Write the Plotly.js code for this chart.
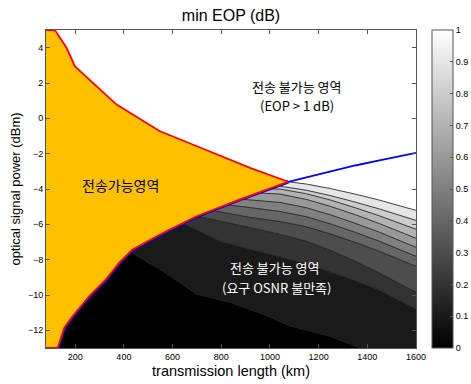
<!DOCTYPE html>
<html>
<head>
<meta charset="utf-8">
<script src="https://cdn.plot.ly/plotly-3.0.1.min.js"></script>
<style>html,body{margin:0;padding:0;background:#fff;} #chart{width:471px;height:384px;}</style>
</head>
<body>
<div id="chart"></div>
<script>
// ---- data ----
const xRange = [80, 1600];
const yRange = [-13, 5];
const xTicks = [200, 400, 600, 800, 1000, 1200, 1400, 1600];
const yTicks = [-12, -10, -8, -6, -4, -2, 0, 2, 4];
const cbTicks = [0, 0.1, 0.2, 0.3, 0.4, 0.5, 0.6, 0.7, 0.8, 0.9, 1];

// upper edge of the feasible (orange) region: EOP = 1 dB limit
const upperX = [80, 117, 165, 199, 370, 548, 713, 918, 1075];
const upperY = [5, 4.98, 3.98, 2.94, 0.78, -0.73, -1.65, -2.80, -3.59];
// lower edge of the feasible region: required OSNR limit
const osnrX = [128, 155, 190, 258, 326, 381, 436, 562, 699, 877, 1075];
const osnrY = [-13, -11.85, -11.19, -10.06, -9.12, -8.17, -7.42, -6.48, -5.54, -4.59, -3.59];
// EOP = 1 dB limit beyond the tip
const eopX = [1075, 1150, 1250, 1350, 1450, 1600];
const eopY = [-3.59, -3.33, -2.98, -2.67, -2.38, -1.95];

// contour levels of min EOP (dB)
const levels = [0.1, 0.2, 0.3, 0.4, 0.5, 0.6, 0.7, 0.8, 0.9, 1.0];
const lvl01X = [425, 561, 699, 836, 972, 1082, 1246, 1370, 1600];
const lvl01Y = [-7.57, -8.65, -9.96, -10.42, -11.09, -11.76, -12.33, -13.0, -13.6];
const lvl02X = [640, 800, 1000, 1150, 1250, 1350, 1450, 1600];
const lvl02Y = [-5.94, -7.00, -7.70, -8.25, -8.72, -9.20, -9.75, -10.81];
const lvl03X = [700, 918, 1041, 1150, 1250, 1350, 1450, 1600];
const lvl03Y = [-5.54, -6.18, -6.57, -6.96, -7.48, -8.09, -8.76, -9.85];
const lvl04X = [760, 918, 1041, 1150, 1250, 1350, 1450, 1600];
const lvl04Y = [-5.21, -5.61, -5.84, -6.14, -6.55, -7.02, -7.53, -8.38];
const lvl05X = [820, 918, 1041, 1150, 1250, 1350, 1450, 1600];
const lvl05Y = [-4.89, -5.05, -5.27, -5.57, -5.98, -6.45, -6.96, -7.81];
const lvl06X = [880, 918, 1041, 1150, 1250, 1350, 1450, 1600];
const lvl06Y = [-4.57, -4.62, -4.76, -5.06, -5.47, -5.94, -6.45, -7.30];
const lvl07X = [950, 1041, 1150, 1250, 1350, 1450, 1600];
const lvl07Y = [-4.22, -4.29, -4.59, -4.99, -5.45, -5.96, -6.79];
const lvl08X = [1000, 1041, 1150, 1250, 1350, 1450, 1600];
const lvl08Y = [-3.97, -4.00, -4.27, -4.63, -5.06, -5.52, -6.28];
const lvl09X = [1030, 1041, 1150, 1250, 1350, 1450, 1600];
const lvl09Y = [-3.82, -3.84, -4.07, -4.38, -4.74, -5.13, -5.78];
const lvl10X = [1075, 1150, 1250, 1350, 1450, 1600];
const lvl10Y = [-3.59, -3.72, -3.98, -4.29, -4.63, -5.21];

const levelX = [lvl01X, lvl02X, lvl03X, lvl04X, lvl05X, lvl06X, lvl07X, lvl08X, lvl09X, lvl10X];
const levelY = [lvl01Y, lvl02Y, lvl03Y, lvl04Y, lvl05Y, lvl06Y, lvl07Y, lvl08Y, lvl09Y, lvl10Y];

// ---- build traces ----
function gray(v) { const g = Math.round(v * 255); return `rgb(${g},${g},${g})`; }

const traces = [];
// floor below the visible range
traces.push({
  x: [xRange[0], xRange[1]], y: [yRange[0] - 1, yRange[0] - 1],
  mode: 'lines', line: {width: 0}, hoverinfo: 'skip', showlegend: false
});
levels.forEach((lv, i) => {
  // level curve continues leftwards hidden beneath the feasible region
  const xs = [xRange[0]].concat(levelX[i]);
  const ys = [levelY[i][0]].concat(levelY[i]);
  const lower = i === 0 ? 0 : levels[i - 1];
  traces.push({
    x: xs, y: ys, mode: 'lines',
    line: {color: 'rgb(15,15,15)', width: 0.8},
    fill: 'tonexty', fillcolor: gray(lower),
    hoverinfo: 'skip', showlegend: false
  });
});
// OSNR limit line (blue) under the feasible region
traces.push({
  x: osnrX, y: osnrY, mode: 'lines',
  line: {color: '#0000ff', width: 3.6}, showlegend: false, hoverinfo: 'skip'
});
// feasible region
const polyX = upperX.concat(osnrX.slice().reverse(), [xRange[0]]);
const polyY = upperY.concat(osnrY.slice().reverse(), [yRange[0]]);
traces.push({
  x: polyX, y: polyY, mode: 'lines', fill: 'toself',
  fillcolor: '#ffc000', line: {color: '#ff0000', width: 1.8},
  showlegend: false, hoverinfo: 'skip'
});
// EOP = 1 dB limit beyond the tip
traces.push({
  x: eopX, y: eopY, mode: 'lines',
  line: {color: '#0000ff', width: 1.8}, showlegend: false, hoverinfo: 'skip'
});
// colour bar carrier
traces.push({
  x: [null, null], y: [null, null], mode: 'markers', showlegend: false, hoverinfo: 'skip',
  marker: {
    color: [0, 1], cmin: 0, cmax: 1,
    colorscale: [[0, 'rgb(0,0,0)'], [1, 'rgb(255,255,255)']],
    showscale: true,
    colorbar: {
      thickness: 21, thicknessmode: 'pixels', len: 1, lenmode: 'fraction',
      x: 1.044, xanchor: 'left', y: 0.5, yanchor: 'middle', xref: 'paper', yref: 'paper',
      xpad: 0, ypad: 0, outlinewidth: 1, outlinecolor: '#555',
      tickvals: cbTicks, ticks: 'inside', ticklen: 3, tickcolor: '#555',
      tickfont: {size: 9, color: '#000'}
    }
  }
});

const fontFam = '"Liberation Sans", Arial, sans-serif';
const krFam = '"Noto Sans CJK KR", sans-serif';
function note(text, x, y, color, size) {
  return {text: text, x: x, y: y, xref: 'x', yref: 'y', showarrow: false, borderpad: 0,
          xanchor: 'center', yanchor: 'middle', font: {family: krFam, size: size, color: color}};
}

const layout = {
  width: 471, height: 384,
  margin: {l: 46, r: 55, t: 30, b: 35.6, pad: 0, autoexpand: false},
  paper_bgcolor: '#ffffff', plot_bgcolor: '#ffffff',
  font: {family: fontFam, color: '#000'},
  showlegend: false,
  title: {text: 'min EOP (dB)', font: {size: 16, color: '#000'}, x: 0.5, xref: 'paper', y: 0.961, yref: 'container', yanchor: 'middle'},
  xaxis: {
    range: xRange, tickvals: xTicks, ticks: 'inside', ticklen: 4, tickcolor: '#555',
    showline: true, linecolor: '#555', linewidth: 1, mirror: 'ticks',
    showgrid: false, zeroline: false, tickfont: {size: 9, color: '#000'},
    title: {text: 'transmission length (km)', font: {size: 14.5, color: '#000'}, standoff: 5}
  },
  yaxis: {
    range: yRange, tickvals: yTicks, ticks: 'inside', ticklen: 4, tickcolor: '#555',
    showline: true, linecolor: '#555', linewidth: 1, mirror: 'ticks',
    showgrid: false, zeroline: false, tickfont: {size: 9, color: '#000'},
    title: {text: 'optical signal power (dBm)', font: {size: 13, color: '#000'}, standoff: 4}
  },
  annotations: [
    note('전송 불가능 영역', 1111, 1.823, '#000', 13),
    note('(EOP > 1 dB)', 1111, 0.721, '#000', 13),
    note('전송가능영역', 386, -3.746, '#000', 14),
    note('전송 불가능 영역', 1021, -8.466, '#fff', 13),
    note('(요구 OSNR 불만족)', 1025, -9.568, '#fff', 13)
  ]
};

Plotly.newPlot('chart', traces, layout, {staticPlot: true, displayModeBar: false});
</script>
</body>
</html>
